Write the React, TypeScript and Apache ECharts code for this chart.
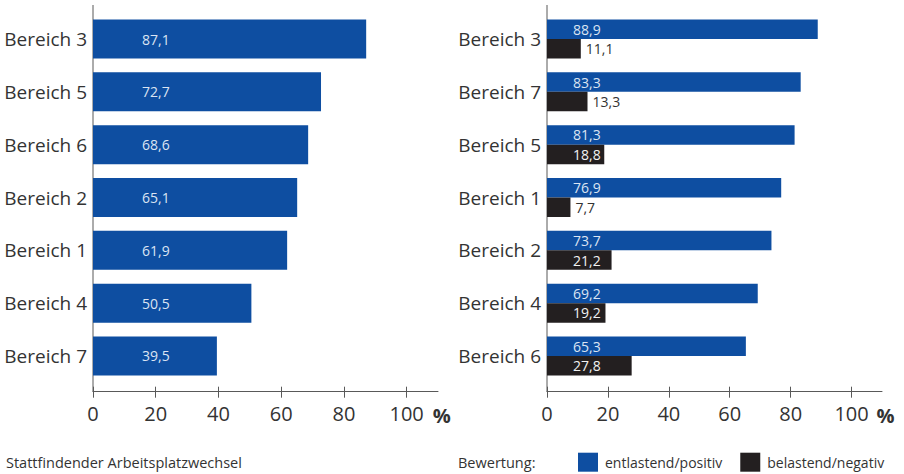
import React, { useEffect, useRef } from 'react';
import * as echarts from 'echarts';

// Left panel: share of actual workplace changes per area
const changeCategories = ['Bereich 3', 'Bereich 5', 'Bereich 6', 'Bereich 2', 'Bereich 1', 'Bereich 4', 'Bereich 7'];
const changeValues = [87.1, 72.7, 68.6, 65.1, 61.9, 50.5, 39.5];

// Right panel: rating of the change per area
const ratingCategories = ['Bereich 3', 'Bereich 7', 'Bereich 5', 'Bereich 1', 'Bereich 2', 'Bereich 4', 'Bereich 6'];
const positiveValues = [88.9, 83.3, 81.3, 76.9, 73.7, 69.2, 65.3];
const negativeValues = [11.1, 13.3, 18.8, 7.7, 21.2, 19.2, 27.8];

const seriesNames = ['entlastend/positiv', 'belastend/negativ'];
const axisTickValues = [0, 20, 40, 60, 80, 100];
const footerLeft = 'Stattfindender Arbeitsplatzwechsel';
const legendTitle = 'Bewertung:';

const BLUE = '#0e4ea1';
const BLACK = '#231f20';
const TEXT = '#333333';
const AXIS = '#595959';
const FONT = '"Open Sans", "Noto Sans", sans-serif';

// layout
const PLOT_TOP = 12.6;
const PLOT_H = 369.8;
const AXIS_OFFSET = 9.3;
const AXIS_TOP = 5;
const AXIS_MAX = 110;
const LEFT_GRID = { left: 93, width: 345 };
const RIGHT_GRID = { left: 547, width: 335 };

const fmt = (v: number) => v.toFixed(1).replace('.', ',');

function valueAxes(gridIndex: number) {
  const base = {
    type: 'value' as const,
    gridIndex,
    min: 0,
    max: AXIS_MAX,
    offset: AXIS_OFFSET,
    position: 'bottom' as const,
    splitLine: { show: false },
  };
  return [
    {
      ...base,
      axisLine: { show: true, lineStyle: { color: AXIS, width: 1 } },
      axisTick: { show: true, inside: false, length: 6, customValues: axisTickValues, lineStyle: { color: AXIS } },
      axisLabel: {
        show: true,
        customValues: axisTickValues,
        margin: 12,
        fontSize: 20,
        fontFamily: FONT,
        color: TEXT,
      },
    },
    {
      ...base,
      axisLine: { show: false },
      axisTick: { show: true, inside: true, length: 5, customValues: axisTickValues, lineStyle: { color: AXIS } },
      axisLabel: { show: false },
    },
  ];
}

function categoryAxis(gridIndex: number, data: string[]) {
  return {
    type: 'category' as const,
    gridIndex,
    data,
    inverse: true,
    axisLine: { show: false },
    axisTick: { show: false },
    axisLabel: {
      margin: 6,
      fontSize: 19,
      fontFamily: FONT,
      color: TEXT,
      padding: [6, 0, 0, 0],
    },
  };
}

function plotEdge(grid: { left: number; width: number }) {
  return {
    type: 'line',
    shape: { x1: grid.left, y1: AXIS_TOP, x2: grid.left, y2: PLOT_TOP + PLOT_H + AXIS_OFFSET },
    style: { stroke: AXIS, lineWidth: 1 },
    silent: true,
  };
}

function percentSign(grid: { left: number; width: number }, gap: number) {
  return {
    type: 'text',
    x: grid.left + (100 / AXIS_MAX) * grid.width + gap,
    y: 415,
    style: {
      text: '%',
      fontSize: 20,
      fontWeight: 'bold',
      fontFamily: FONT,
      fill: TEXT,
      verticalAlign: 'middle',
    },
  };
}

export default function App() {
  const ref = useRef<HTMLDivElement>(null);

  useEffect(() => {
    if (!ref.current) return;
    const chart = echarts.init(ref.current, null, { renderer: 'svg' });

    const option = {
      animation: false,
      backgroundColor: '#ffffff',
      grid: [
        { left: LEFT_GRID.left, width: LEFT_GRID.width, top: PLOT_TOP, height: PLOT_H, containLabel: false, outerBoundsMode: 'none' },
        { left: RIGHT_GRID.left, width: RIGHT_GRID.width, top: PLOT_TOP, height: PLOT_H, containLabel: false, outerBoundsMode: 'none' },
      ],
      xAxis: [...valueAxes(0), ...valueAxes(1)],
      yAxis: [categoryAxis(0, changeCategories), categoryAxis(1, ratingCategories)],
      legend: {
        data: seriesNames,
        left: 578,
        top: 452.7,
        itemWidth: 20,
        itemHeight: 19,
        itemGap: 18,
        icon: 'rect',
        padding: 0,
        textStyle: { fontSize: 14, fontFamily: FONT, color: TEXT, padding: [0, 0, 0, 2] },
      },
      series: [
        {
          name: footerLeft,
          type: 'bar',
          xAxisIndex: 0,
          yAxisIndex: 0,
          data: changeValues,
          barWidth: 39,
          itemStyle: { color: BLUE },
          label: {
            show: true,
            position: [49, '50%'],
            align: 'left',
            verticalAlign: 'middle',
            color: '#dbe4f3',
            fontSize: 14,
            fontFamily: FONT,
            formatter: (p: any) => fmt(p.value),
          },
        },
        {
          name: seriesNames[0],
          type: 'bar',
          xAxisIndex: 2,
          yAxisIndex: 1,
          data: positiveValues,
          barWidth: 19.5,
          barGap: '0%',
          itemStyle: { color: BLUE },
          label: {
            show: true,
            position: [26, '50%'],
            align: 'left',
            verticalAlign: 'middle',
            color: '#dbe4f3',
            fontSize: 14,
            fontFamily: FONT,
            formatter: (p: any) => fmt(p.value),
          },
        },
        {
          name: seriesNames[1],
          type: 'bar',
          xAxisIndex: 2,
          yAxisIndex: 1,
          // short bars carry their value to the right, outside the bar
          data: negativeValues.map((v) =>
            v < 15
              ? { value: v, label: { position: 'right', distance: 5, color: TEXT, padding: [4, 0, 0, 0] } }
              : v
          ),
          barWidth: 19.5,
          barGap: '0%',
          itemStyle: { color: BLACK },
          label: {
            show: true,
            position: [26, '50%'],
            align: 'left',
            verticalAlign: 'middle',
            color: '#f2f2f2',
            fontSize: 14,
            fontFamily: FONT,
            formatter: (p: any) => fmt(p.value),
          },
        },
      ],
      graphic: [
        plotEdge(LEFT_GRID),
        plotEdge(RIGHT_GRID),
        percentSign(LEFT_GRID, 26),
        percentSign(RIGHT_GRID, 25),
        {
          type: 'text',
          x: 6,
          y: 462,
          style: { text: footerLeft, fontSize: 14.5, fontFamily: FONT, fill: TEXT, verticalAlign: 'middle' },
        },
        {
          type: 'text',
          x: 458,
          y: 462,
          style: { text: legendTitle, fontSize: 14.5, fontFamily: FONT, fill: TEXT, verticalAlign: 'middle' },
        },
      ],
    };

    chart.setOption(option as any);
    return () => chart.dispose();
  }, []);

  return <div ref={ref} style={{ position: 'fixed', left: 0, top: 0, width: 904, height: 474 }} />;
}
